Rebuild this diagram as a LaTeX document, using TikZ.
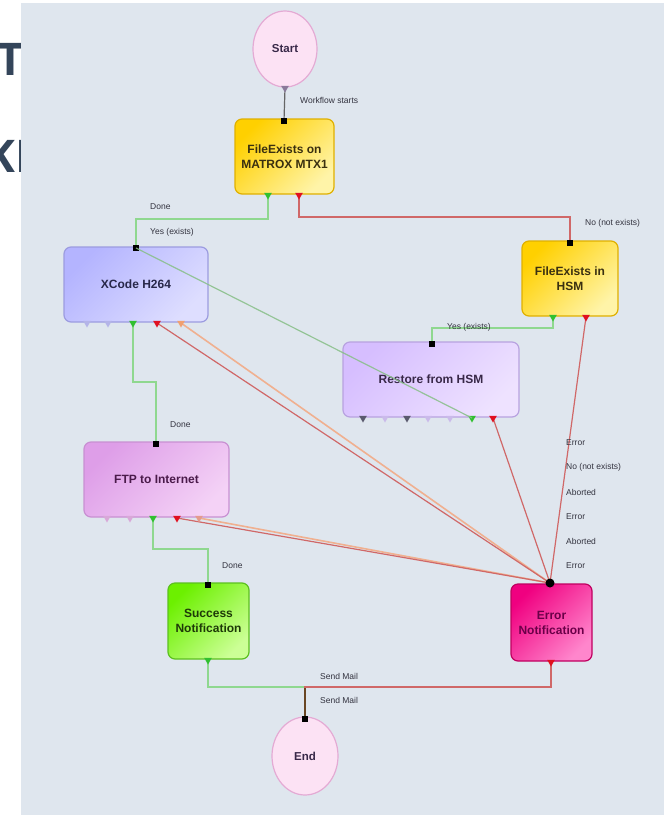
\documentclass[tikz,border=0pt]{standalone}
\usepackage{fontspec}
\setmainfont{Liberation Sans}
\newfontfamily\slidefont{Open Sans}
\usetikzlibrary{shapes.geometric}
\pgfdeclarelayer{bglayer}
\pgfdeclarelayer{edges}
\pgfdeclarelayer{over}
\pgfsetlayers{bglayer,edges,main,over}
\definecolor{bgc}{HTML}{DFE6EE}
\definecolor{slide}{HTML}{34455A}
\definecolor{lblc}{HTML}{33333F}
\definecolor{gline}{HTML}{8FD88F}
\definecolor{rline}{HTML}{D06868}
\definecolor{oline}{HTML}{F0B090}
\definecolor{ovf}{HTML}{FCE2F4}
\definecolor{ovb}{HTML}{E4AAD4}
\definecolor{yA}{HTML}{FFD000}
\definecolor{yB}{HTML}{FFF4A8}
\definecolor{yD}{HTML}{E0B000}
\definecolor{bA}{HTML}{B4B4FF}
\definecolor{bB}{HTML}{DEDEFF}
\definecolor{bD}{HTML}{9C9CE0}
\definecolor{lA}{HTML}{D6BEFF}
\definecolor{lB}{HTML}{EEE2FF}
\definecolor{lD}{HTML}{B8A2E0}
\definecolor{pA}{HTML}{DE9EE8}
\definecolor{pB}{HTML}{F4D2F6}
\definecolor{pD}{HTML}{C890D2}
\definecolor{gA}{HTML}{6CF000}
\definecolor{gB}{HTML}{CCFF96}
\definecolor{gD}{HTML}{5CC020}
\definecolor{mA}{HTML}{F00080}
\definecolor{mB}{HTML}{FF86CC}
\definecolor{mD}{HTML}{C00060}
\definecolor{pgreen}{HTML}{30C030}
\definecolor{pred}{HTML}{E01020}
\definecolor{porange}{HTML}{F0A070}
\definecolor{plav}{HTML}{B4B4E8}
\definecolor{pdark}{HTML}{5A5A6E}
\definecolor{plight}{HTML}{CABAEA}
\definecolor{ppink}{HTML}{D8A8D8}
\definecolor{pstart}{HTML}{8A7A9A}
\definecolor{tyel}{HTML}{3A3010}
\definecolor{tblu}{HTML}{28284A}
\definecolor{tvio}{HTML}{382848}
\definecolor{tpnk}{HTML}{4A1A4A}
\definecolor{tgrn}{HTML}{1E3A08}
\definecolor{tmag}{HTML}{6A0048}
\tikzset{
  wbox/.style={rounded corners=7pt, line width=1.2pt, align=center,
    font=\bfseries\fontsize{12}{15}\selectfont, inner sep=0pt},
  oval/.style={ellipse, line width=1.2pt, draw=ovb, fill=ovf, text=tvio,
    font=\bfseries\fontsize{11.5}{13}\selectfont, inner sep=0pt},
  outp/.style={regular polygon, regular polygon sides=3, shape border rotate=180,
    minimum size=9pt, inner sep=0pt, fill=#1},
  inp/.style={rectangle, fill=black, minimum size=6pt, inner sep=0pt},
  lbl/.style={font=\fontsize{8.5}{9}\selectfont, text=lblc, anchor=west, inner sep=0pt},
  gl/.style={draw=gline, line width=1.3pt},
  rl/.style={draw=rline, line width=1.2pt},
  ol/.style={draw=oline, line width=1.6pt},
}
\begin{document}
\begin{tikzpicture}[x=1pt,y=-1pt]
\useasboundingbox (0,0) rectangle (664,815);
\begin{pgfonlayer}{bglayer}
  \node[anchor=base, inner sep=0pt, text=slide, font=\slidefont\bfseries\fontsize{45}{45}\selectfont] (slideT) at (11,75) {T};
  \node[anchor=base west, inner sep=0pt, text=slide, font=\slidefont\bfseries\fontsize{45}{45}\selectfont] (slideK) at (-15,172) {KL};
  \fill[bgc] (21,3) rectangle (664,815);
\end{pgfonlayer}

% main nodes
\node[oval, minimum width=64pt, minimum height=76pt] (start) at (285,49) {Start};
\node[wbox, draw=yD, top color=yA, bottom color=yB, shading angle=45, text=tyel,
  minimum width=99pt, minimum height=75pt] (fe) at (284.5,156.5) {FileExists on\\MATROX MTX1};
\node[wbox, draw=bD, top color=bA, bottom color=bB, shading angle=45, text=tblu,
  minimum width=144pt, minimum height=75pt] (xc) at (136,284.5) {XCode H264};
\node[wbox, draw=yD, top color=yA, bottom color=yB, shading angle=45, text=tyel,
  minimum width=96pt, minimum height=75pt] (hsm) at (570,278.5) {FileExists in\\HSM};
\node[wbox, draw=lD, top color=lA, bottom color=lB, shading angle=45, text=tvio,
  minimum width=176pt, minimum height=75pt] (rs) at (431,379.5) {Restore from HSM};
\node[wbox, draw=pD, top color=pA, bottom color=pB, shading angle=45, text=tpnk,
  minimum width=145pt, minimum height=75pt] (ftp) at (156.5,479.5) {FTP to Internet};
\node[wbox, draw=gD, top color=gA, bottom color=gB, shading angle=45, text=tgrn,
  minimum width=81pt, minimum height=76pt] (sc) at (208.5,621) {Success\\Notification};
\node[wbox, draw=mD, top color=mA, bottom color=mB, shading angle=45, text=tmag,
  minimum width=81pt, minimum height=77pt] (er) at (551.5,622.5) {Error\\Notification};
\node[oval, minimum width=66pt, minimum height=78pt] (end) at (305,756) {End};

% ports
\node[outp=pstart] (st-out) at (285,88) {};
\node[inp] (fe-in) at (284,121) {};
\node[outp=pgreen] (fe-yes) at (268,195) {};
\node[outp=pred] (fe-no) at (299,195) {};
\node[inp] (xc-in) at (136,248) {};
\node[outp=plav] (xc-p1) at (87,323) {};
\node[outp=plav] (xc-p2) at (108,323) {};
\node[outp=pgreen] (xc-yes) at (133,323) {};
\node[outp=pred] (xc-err) at (157,323) {};
\node[outp=porange] (xc-ab) at (181,323) {};
\node[inp] (hsm-in) at (570,243) {};
\node[outp=pgreen] (hsm-yes) at (553,317) {};
\node[outp=pred] (hsm-no) at (586,317) {};
\node[inp] (rs-in) at (432,344) {};
\node[outp=pdark] (rs-p1) at (363,418) {};
\node[outp=plight] (rs-p2) at (385,418) {};
\node[outp=pdark] (rs-p3) at (407,418) {};
\node[outp=plight] (rs-p4) at (428,418) {};
\node[outp=plight] (rs-p5) at (450,418) {};
\node[outp=pgreen] (rs-yes) at (472,418) {};
\node[outp=pred] (rs-err) at (493,418) {};
\node[inp] (ftp-in) at (156,444) {};
\node[outp=ppink] (ftp-p1) at (107,518) {};
\node[outp=ppink] (ftp-p2) at (130,518) {};
\node[outp=pgreen] (ftp-yes) at (153,518) {};
\node[outp=pred] (ftp-err) at (177,518) {};
\node[outp=porange!70!pD] (ftp-ab) at (199,518) {};
\node[inp] (sc-in) at (208,585) {};
\node[outp=pgreen] (sc-out) at (208,660) {};
\node[circle, fill=black, minimum size=9pt, inner sep=0pt] (er-in) at (550,583) {};
\node[outp=pred] (er-out) at (551,662) {};
\node[inp] (end-in) at (305,719) {};

% connectors
\begin{pgfonlayer}{edges}
  \draw[draw=black!60, line width=1.2pt] (st-out.center) -- (fe-in.center);
  \draw[gl] (fe-yes.center) -- ++(0,24) -| (xc-in.center);
  \draw[rl] (fe-no.center) -- ++(0,22) -| (hsm-in.center);
  \draw[gl] (hsm-yes.center) -- ++(0,11) -| (rs-in.center);
  \draw[gl] (xc-yes.center) -- ++(0,59) -| (ftp-in.center);
  \draw[gl] (ftp-yes.center) -- ++(0,31) -| (sc-in.center);
  \draw[gl] (sc-out.center) -- ++(0,27) -| (end-in.center);
  \draw[rl] (er-out.center) -- ++(0,25) -| (end-in.center);
  \draw[draw=black!45!brown, line width=1.6pt] (end-in.center) -- ++(0,-31);
  \draw[ol] (xc-ab.center) -- (er-in.center);
  \draw[ol] (ftp-ab.center) -- (er-in.center);
  \draw[rl] (xc-err.center) -- (er-in.center);
  \draw[rl] (ftp-err.center) -- (er-in.center);
  \draw[rl] (rs-err.center) -- (er-in.center);
  \draw[rl] (hsm-no.center) -- (er-in.center);
\end{pgfonlayer}
\begin{pgfonlayer}{over}
  \draw[draw=gline!85!black!90, line width=1.2pt, opacity=0.85] (rs-yes.center) -- (xc-in.center);
\end{pgfonlayer}

% labels
\node[lbl] (l-wf) at (300,100) {Workflow starts};
\node[lbl] (l-d1) at (150,207) {Done};
\node[lbl] (l-y1) at (150,232) {Yes (exists)};
\node[lbl] (l-n1) at (585,223) {No (not exists)};
\node[lbl] (l-y2) at (447,327) {Yes (exists)};
\node[lbl] (l-d2) at (170,425) {Done};
\node[lbl] (l-d3) at (222,566) {Done};
\node[lbl] (l-e1) at (566,443) {Error};
\node[lbl] (l-e2) at (566,467) {No (not exists)};
\node[lbl] (l-e3) at (566,492) {Aborted};
\node[lbl] (l-e4) at (566,517) {Error};
\node[lbl] (l-e5) at (566,541) {Aborted};
\node[lbl] (l-e6) at (566,566) {Error};
\node[lbl] (l-s1) at (320,676) {Send Mail};
\node[lbl] (l-s2) at (320,700) {Send Mail};
\end{tikzpicture}
\end{document}
